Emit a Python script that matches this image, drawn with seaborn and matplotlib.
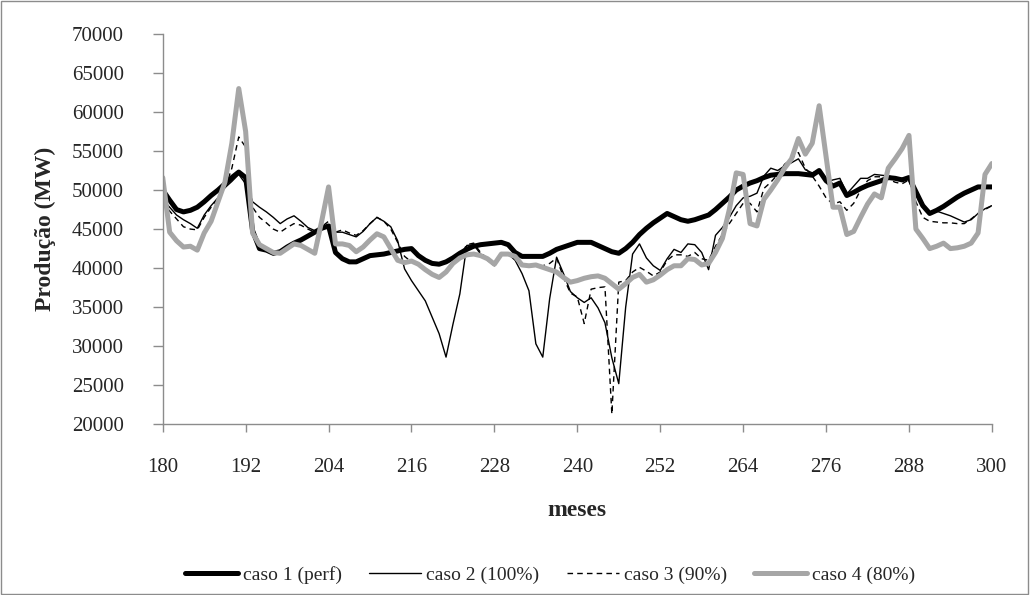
import matplotlib
matplotlib.use("Agg")
import matplotlib.pyplot as plt
import pandas as pd
import seaborn as sns
from matplotlib.patches import Rectangle
from matplotlib.lines import Line2D

months = list(range(180, 301))

caso1 = [50000, 48700, 47500, 47200, 47400, 47800, 48500, 49300, 50000, 50800,
         51600, 52300, 51600, 44800, 42500, 42300, 41900, 42100, 42700, 43200,
         43600, 44100, 44600, 45100, 45400, 42000, 41200, 40800, 40800, 41200,
         41600, 41700, 41800, 42000, 42200, 42400, 42500, 41600, 41000, 40600,
         40500, 40800, 41300, 41900, 42400, 42800, 43000, 43100, 43200, 43300,
         43000, 42000, 41500, 41500, 41500, 41500, 41900, 42400, 42700, 43000,
         43300, 43300, 43300, 42900, 42500, 42100, 41900, 42500, 43300, 44300,
         45100, 45800, 46400, 47000, 46600, 46200, 46000, 46200, 46500, 46800,
         47500, 48300, 49100, 50000, 50500, 50900, 51200, 51600, 51900, 52000,
         52100, 52100, 52100, 52000, 51900, 52500, 51200, 50500, 50900, 49300,
         49700, 50200, 50600, 50900, 51200, 51600, 51500, 51300, 51600, 49800,
         48000, 47000, 47400, 47900, 48500, 49100, 49600, 50000, 50400, 50400,
         50400]

caso2 = [48800, 47800, 46800, 46200, 45700, 45100, 46800, 48000, 49000, 50300,
         51100, 52000, 50800, 48500, 47800, 47200, 46500, 45700, 46300, 46700,
         46000, 45200, 44800, 45100, 45300, 44600, 44600, 44300, 44000, 44700,
         45700, 46500, 46000, 45300, 43500, 39900, 38400, 37100, 35800, 33700,
         31600, 28600, 32800, 36700, 42900, 43000, 41800, 41000, 40300, 41800,
         41800, 41000, 39300, 37100, 30300, 28600, 36100, 41400, 39300, 37000,
         36200, 35600, 36200, 34900, 33000, 28500, 25200, 35000, 41800, 43100,
         41300, 40300, 39700, 41200, 42400, 42000, 43100, 43000, 42000, 39800,
         44200, 45200, 46500, 48000, 49000, 49200, 49600, 51800, 52800, 52500,
         53100, 53500, 54000, 52600, 52200, 52500, 51000, 51300, 51500, 49500,
         50500, 51500, 51500, 52000, 51900, 51800, 51600, 51500, 51600, 49800,
         47800, 47200, 47300, 47000, 46700, 46300, 45900, 46200, 47000, 47600,
         48000]

caso3 = [48500, 47300, 46300, 45300, 45000, 44900, 46500, 47800, 49000, 50200,
         52800, 56800, 55500, 47800, 46500, 45800, 45000, 44600, 45200, 45700,
         45500, 45000, 44600, 45300, 46000, 44600, 44900, 44500, 44200, 44800,
         45700, 46500, 46000, 45000, 43300, 41500, 40800, 40400, 39800, 39200,
         38800, 39600, 40700, 41500, 43000, 43200, 42000, 41200, 40600, 41800,
         41800, 41500, 40600, 40300, 40400, 40300, 40600, 41300, 38800, 36800,
         36300, 32900, 37300, 37500, 37600, 21300, 38200, 38400, 39500, 40100,
         39600, 39000, 39500, 41000, 41700, 41700, 41500, 42000, 41200, 41000,
         42800, 44300, 45700, 47000, 48300, 48300, 47200, 50200, 51000, 52000,
         53300, 54000, 54800, 52800, 51800, 50500, 49000, 48200, 48500, 47400,
         48300, 50000, 51200, 51700, 51700, 51400, 51000, 50800, 51300, 48500,
         46500, 46000, 45900, 45800, 45800, 45700, 45700, 46300, 47000, 47500,
         48000]

caso4 = [51600, 44600, 43500, 42700, 42800, 42300, 44500, 46000, 48500, 51000,
         56000, 63000, 57500, 44500, 43000, 42500, 42000, 41900, 42500, 43100,
         42900, 42400, 41900, 46000, 50400, 43100, 43100, 42900, 42100, 42700,
         43600, 44400, 44000, 42500, 41000, 40700, 40900, 40500, 39800, 39200,
         38800, 39500, 40600, 41300, 41700, 41800, 41600, 41200, 40500, 41800,
         41800, 41500, 40400, 40300, 40400, 40100, 39800, 39500, 38800, 38200,
         38400, 38700, 38900, 39000, 38700, 38000, 37300, 38000, 38800, 39200,
         38200, 38500, 39100, 39800, 40300, 40300, 41200, 41100, 40400, 40600,
         42000, 43800, 47500, 52200, 52000, 45700, 45400, 48800, 50000, 51300,
         52800, 54000, 56600, 54600, 56000, 60800, 54300, 47800, 47800, 44300,
         44700, 46500, 48200, 49500, 49000, 52800, 54000, 55300, 57000, 45000,
         43800, 42500, 42800, 43200, 42500, 42600, 42800, 43200, 44500, 52000,
         53400]

labels = ["caso 1 (perf)", "caso 2 (100%)", "caso 3 (90%)", "caso 4 (80%)"]
xticks = list(range(180, 301, 12))
yticks = list(range(20000, 70001, 5000))

sns.set_style("white")
plt.rcParams['font.family'] = ['Liberation Serif', 'DejaVu Serif']

fig = plt.figure(figsize=(10.3, 5.95), dpi=100)
ax = fig.add_axes([0.158, 0.287, 0.805, 0.656])

styles = [
    dict(color='black', linewidth=3.6, linestyle='-'),
    dict(color='black', linewidth=1.0, linestyle='-'),
    dict(color='black', linewidth=1.0, linestyle=(0, (4, 3))),
    dict(color='#A6A6A6', linewidth=3.6, linestyle='-'),
]
series = [caso1, caso2, caso3, caso4]
for vals, lab, st in zip(series, labels, styles):
    df = pd.DataFrame({'mes': months, 'valor': vals})
    sns.lineplot(data=df, x='mes', y='valor', ax=ax, legend=False, **st)

ax.set_xlim(180, 300)
ax.set_ylim(20000, 70000)
ax.set_xticks(xticks)
ax.set_yticks(yticks)
ax.set_xticklabels([str(t) for t in xticks])
ax.set_yticklabels([str(t) for t in yticks])
ax.set_xlabel('')
ax.set_ylabel('')

axis_color = '#8c8c8c'
for side in ['top', 'right']:
    ax.spines[side].set_visible(False)
for side in ['left', 'bottom']:
    ax.spines[side].set_color(axis_color)
    ax.spines[side].set_linewidth(1.0)
ax.tick_params(axis='x', direction='out', length=6, width=1, color=axis_color,
               labelsize=15, pad=18, bottom=True)
ax.tick_params(axis='y', direction='out', length=7, width=1, color=axis_color,
               labelsize=15, pad=21, left=True)

fig.text(577 / 1030, 1 - 510 / 595, 'meses', fontsize=17, fontweight='bold',
         ha='center', va='center')
fig.text(45 / 1030, 1 - 229 / 595, 'Produção (MW)', fontsize=17, fontweight='bold',
         ha='center', va='center', rotation=90)

handles = [Line2D([0], [0], **st) for st in styles]
fig.legend(handles, labels, loc='center', bbox_to_anchor=(0.534, 1 - 575 / 595),
           ncol=4, frameon=False, fontsize=14, handlelength=2.7,
           handletextpad=0.25, columnspacing=1.4)

fig.patches.append(Rectangle((0.001, 0.002), 0.997, 0.996, transform=fig.transFigure,
                             fill=False, edgecolor='#8c8c8c', linewidth=1.0))

fig.savefig('out.png', dpi=100)
